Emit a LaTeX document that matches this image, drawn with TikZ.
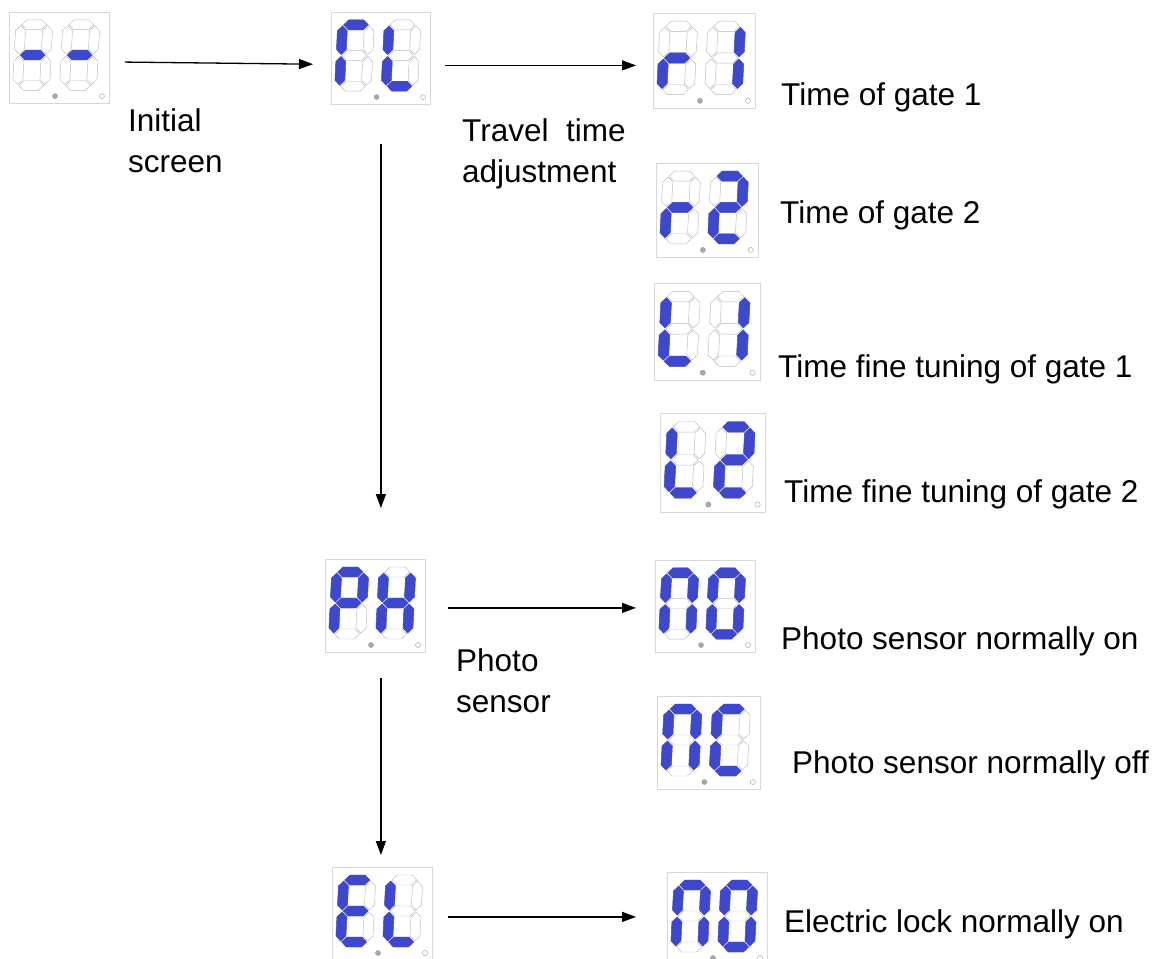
\documentclass[tikz,border=0pt]{standalone}
\usepackage{fontspec}
\setmainfont{Liberation Sans}
\usetikzlibrary{arrows.meta}
\definecolor{segon}{RGB}{62,72,204}
\definecolor{segoff}{RGB}{185,185,185}
\definecolor{boxc}{RGB}{215,215,215}
\definecolor{dotc}{RGB}{170,170,170}
\def\sgA{(6,5)--(11,0)--(26,0)--(31,5)--(26,10)--(11,10)--cycle}
\def\sgG{(6,36)--(11,31)--(26,31)--(31,36)--(26,41)--(11,41)--cycle}
\def\sgD{(6,67)--(11,62)--(26,62)--(31,67)--(26,72)--(11,72)--cycle}
\def\sgF{(5,6)--(10,11)--(10,30)--(5,35)--(0,30)--(0,11)--cycle}
\def\sgE{(5,37)--(10,42)--(10,61)--(5,66)--(0,61)--(0,42)--cycle}
\def\sgB{(32,6)--(37,11)--(37,30)--(32,35)--(27,30)--(27,11)--cycle}
\def\sgC{(32,37)--(37,42)--(37,61)--(32,66)--(27,61)--(27,42)--cycle}
\tikzset{
  segoffst/.style={draw=segoff, line width=0.45pt},
  segonst/.style={fill=segon, draw=segon, line width=0.4pt},
  dispbox/.style={draw=boxc, line width=0.8pt, inner sep=0pt, rectangle},
  dotfill/.style={fill=dotc, draw=dotc!80!black, line width=0.3pt},
  dotline/.style={draw=dotc, line width=0.5pt},
  arr/.style={line width=1.3pt, -{Triangle[length=14pt,width=10pt]}},
  lbl/.style={font=\fontsize{31.5}{41}\selectfont, inner sep=0pt, anchor=base west},
  mlbl/.style={lbl, align=left, anchor=north west},
}
\newcommand\dgt[3]{%
  \begin{scope}[shift={(#1,#2)},xslant=0.05]
    \foreach \s in {A,B,C,D,E,F,G}{\draw[segoffst] \csname sg\s\endcsname;}
    \foreach \s in {#3}{\filldraw[segonst] \csname sg\s\endcsname;}
  \end{scope}}
\newcommand\disp[7]{%
  \node[dispbox, minimum width=#4pt, minimum height=#5pt, anchor=north west] (#1) at (#2,#3) {};
  \begin{scope}[shift={(#2,#3)}, xscale=#4/100, yscale=#5/93]
    \dgt{7}{8}{#6}
    \dgt{54}{8}{#7}
    \filldraw[dotfill] (46,86) circle (2.5);
    \draw[dotline] (93,86) circle (2.5);
  \end{scope}}
\begin{document}
\begin{tikzpicture}[x=1pt,y=-1pt]
\fill[white] (0,0) rectangle (1166,958);
\useasboundingbox (0,0) rectangle (1166,958);
\disp{d1}{9}{12}{100}{91}{G}{G}
\disp{d2}{331}{12}{99}{92}{A,F,E}{F,E,D}
\disp{d3}{653}{13}{102}{95}{G,E}{B,C}
\disp{d4}{656}{163}{102}{94}{G,E}{A,B,G,E,D}
\disp{d5}{654}{283}{106}{97}{F,E,D}{B,C}
\disp{d6}{660}{413}{105}{99}{F,E,D}{A,B,G,E,D}
\disp{d7}{325}{559}{100}{93}{A,B,F,G,E}{F,B,G,E,C}
\disp{d8}{655}{560}{100}{92}{A,B,C,E,F}{A,B,C,D,E,F}
\disp{d9}{657}{696}{103}{93}{A,B,C,E,F}{A,F,E,D}
\disp{d10}{332}{867}{100}{93}{A,F,G,E,D}{F,E,D}
\disp{d11}{667}{872}{100}{93}{A,B,C,E,F}{A,B,C,D,E,F}
% arrows
\draw[arr, shorten <=15pt, shorten >=18pt] ([yshift=-4pt]d1.east) -- ([yshift=-6pt]d2.west);
\draw[arr, shorten <=14pt, shorten >=17pt] ([yshift=-7pt]d2.east) -- ([yshift=-7pt]d2.east -| d3.west);
\draw[arr, shorten <=39pt, shorten >=51pt] (d2.south) -- (d2.south |- d7.north);
\draw[arr, shorten <=22pt, shorten >=19pt] ([yshift=-2pt]d7.east) -- ([yshift=-2pt]d7.east -| d8.west);
\draw[arr, shorten <=25pt, shorten >=12pt] (d2.south |- d7.south) -- (d2.south |- d10.north);
\draw[arr, shorten <=15pt, shorten >=31pt] ([yshift=-3pt]d10.east) -- ([yshift=-3pt]d10.east -| d11.west);
% labels
\node[mlbl] (l1) at (128,108) {Initial\\screen};
\node[mlbl] (l2) at (462,118) {Travel\ \ time\\adjustment};
\node[mlbl] (l7) at (456,648) {Photo\\sensor};
\node[lbl] (l3) at (781,105) {Time of gate 1};
\node[lbl] (l4) at (780,223) {Time of gate 2};
\node[lbl] (l5) at (778,377) {Time fine tuning of gate 1};
\node[lbl] (l6) at (784,502) {Time fine tuning of gate 2};
\node[lbl] (l8) at (781,649) {Photo sensor normally on};
\node[lbl] (l9) at (792,773) {Photo sensor normally off};
\node[lbl] (l11) at (784,932) {Electric lock normally on};
\end{tikzpicture}
\end{document}
